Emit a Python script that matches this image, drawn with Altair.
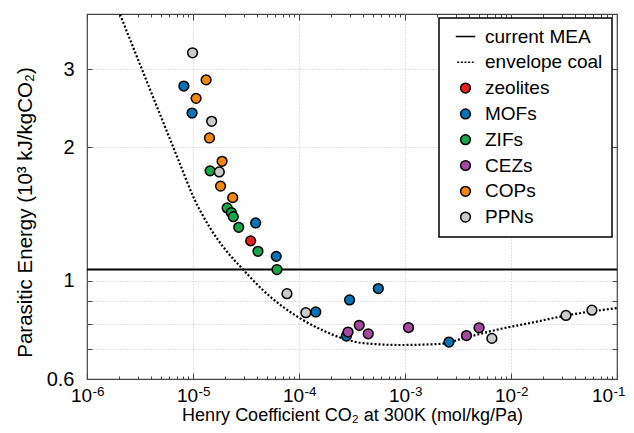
import altair as alt
import pandas as pd

# ---------------- data ----------------
legend_labels = ["current MEA", "envelope coal", "zeolites", "MOFs", "ZIFs", "CEZs", "COPs", "PPNs"]
legend_colors = ["black", "black", "#ec1c24", "#0a72b5", "#17a64a", "#a34a9e", "#f7860f", "#cbcbcb"]

zeolites_x = [3.5e-5]
zeolites_y = [1.23]
mofs_x = [8.2e-6, 9.8e-6, 3.9e-5, 6.1e-5, 1.44e-4, 3.0e-4, 5.6e-4, 2.8e-4, 2.6e-3]
mofs_y = [2.75, 2.39, 1.35, 1.135, 0.85, 0.905, 0.96, 0.75, 0.727]
zifs_x = [1.45e-5, 2.1e-5, 2.3e-5, 2.4e-5, 2.7e-5, 4.1e-5, 6.2e-5]
zifs_y = [1.77, 1.46, 1.425, 1.395, 1.32, 1.165, 1.06]
cezs_x = [2.9e-4, 3.7e-4, 4.5e-4, 1.08e-3, 3.8e-3, 5.0e-3]
cezs_y = [0.766, 0.793, 0.759, 0.784, 0.752, 0.783]
cops_x = [1.33e-5, 1.07e-5, 1.43e-5, 1.88e-5, 1.82e-5, 2.37e-5]
cops_y = [2.84, 2.58, 2.10, 1.86, 1.635, 1.54]
ppns_x = [9.9e-6, 1.5e-5, 1.77e-5, 7.7e-5, 1.16e-4, 6.6e-3, 3.3e-2, 5.8e-2]
ppns_y = [3.27, 2.29, 1.76, 0.935, 0.847, 0.741, 0.835, 0.858]

envelope_x = [2.05e-6, 4.07e-6, 7.53e-6, 1.01e-5, 1.45e-5,
              2.08e-5, 2.98e-5, 4.6e-5, 7.11e-5, 1.1e-4, 1.69e-4, 2.62e-4, 4.05e-4,
              8.98e-4, 2.14e-3, 3.82e-3, 7.87e-3, 1.61e-2, 3.35e-2, 0.1]
envelope_y = [3.99, 2.647, 1.836, 1.544, 1.315,
              1.165, 1.059, 0.951, 0.872, 0.814, 0.772, 0.740, 0.723,
              0.716, 0.720, 0.745, 0.778, 0.805, 0.835, 0.867]

mea_value = 1.06

x_ticks = [1e-6, 1e-5, 1e-4, 1e-3, 1e-2, 1e-1]
x_tick_base = "10"
x_tick_exponents = ["-6", "-5", "-4", "-3", "-2", "-1"]
x_minor = [m * 10.0 ** e for e in range(-6, -1) for m in range(2, 10)]
y_ticks = [0.6, 0.7, 0.8, 0.9, 1, 2, 3]
y_tick_labels = ["0.6", "", "", "", "1", "2", "3"]

x_title = "Henry Coefficient CO₂ at 300K (mol/kg/Pa)"
y_title = "Parasitic Energy (10³ kJ/kgCO₂)"

# ---------------- tables ----------------
groups = [("zeolites", zeolites_x, zeolites_y), ("MOFs", mofs_x, mofs_y),
          ("ZIFs", zifs_x, zifs_y), ("CEZs", cezs_x, cezs_y),
          ("COPs", cops_x, cops_y), ("PPNs", ppns_x, ppns_y)]
rows = []
order = 0
for name, xs, ys in groups:
    for xv, yv in zip(xs, ys):
        rows.append({"x": xv, "y": yv, "cat": name, "o": order})
        order += 1
pts = pd.DataFrame(rows)
env = pd.DataFrame({"x": envelope_x, "y": envelope_y})

FONT = "Liberation Sans"
xscale = alt.Scale(type="log", domain=[1e-6, 0.1], nice=False)
yscale = alt.Scale(type="log", domain=[0.6, 4.0], nice=False)

x_exp_expr = "[" + ",".join("'%s'" % s for s in x_tick_exponents) + "][round(log(datum.value)/LN10)+6]"
y_label_expr = ("[" + ",".join("'%s'" % s for s in y_tick_labels) + "][indexof(["
                + ",".join(str(v) for v in y_ticks) + "], datum.value)]")
last_tick_test = "datum.value > 0.05"

def blank_axis(**kw):
    base = dict(labels=False, title=None, domain=False, grid=False, tickColor="#444", tickWidth=1)
    base.update(kw)
    return alt.Axis(**base)

# grid layer + envelope
envelope = alt.Chart(env).mark_line(
    color="black", strokeDash=[2, 2], strokeWidth=2.2, interpolate="monotone", clip=True
).encode(
    x=alt.X("x:Q", scale=xscale,
            axis=blank_axis(orient="bottom", values=x_ticks[1:-1], ticks=False, grid=True,
                            gridColor="#c4c4c4", gridDash=[1, 2], gridWidth=1)),
    y=alt.Y("y:Q", scale=yscale,
            axis=blank_axis(orient="left", values=y_ticks[1:], ticks=False, grid=True,
                            gridColor="#c4c4c4", gridDash=[1, 2], gridWidth=1)),
)

mea = alt.Chart(pd.DataFrame({"v": [mea_value]})).mark_rule(color="black", strokeWidth=2).encode(
    y=alt.Y("v:Q", scale=yscale, axis=None)
)

legend_shapes = ["M-2,0H2",
                 "M-1.68,0H-1.28M-0.94,0H-0.54M-0.2,0H0.2M0.54,0H0.94M1.28,0H1.68",
                 "circle", "circle", "circle", "circle", "circle", "circle"]

points = alt.Chart(pts).mark_point(
    filled=True, size=95, stroke="black", strokeWidth=1.5, opacity=1
).encode(
    x=alt.X("x:Q", scale=xscale,
            axis=alt.Axis(orient="bottom", values=x_ticks, labelExpr="'%s'" % x_tick_base,
                          tickSize=6, offset=-6, labelPadding=7, labelFontSize=19,
                          labelOffset={"condition": {"test": last_tick_test, "value": -15}, "value": -6},
                          grid=False, domain=False,
                          tickColor="#444", labelFlush=False, labelOverlap=False,
                          title=x_title, titleY=33, titleFontSize=18)),
    y=alt.Y("y:Q", scale=yscale,
            axis=alt.Axis(orient="left", values=y_ticks, labelExpr=y_label_expr,
                          tickSize=5, offset=-5, labelPadding=13, grid=False, domain=False,
                          tickColor="#444", labelOverlap=False,
                          title=y_title, titlePadding=11, titleY=198, titleFontSize=20.5)),
    color=alt.Color("cat:N", scale=alt.Scale(domain=legend_labels, range=legend_colors),
                    legend=alt.Legend(title=None, orient="none", legendX=352, legendY=4)),
    shape=alt.Shape("cat:N", scale=alt.Scale(domain=legend_labels, range=legend_shapes),
                    legend=alt.Legend(title=None, orient="none", legendX=352, legendY=4)),
    order=alt.Order("o:Q"),
)

ghost1 = alt.Chart(pts).mark_point(opacity=0).encode(
    x=alt.X("x:Q", scale=xscale, axis=blank_axis(orient="bottom", values=x_minor, tickSize=3, offset=-3)),
    y=alt.Y("y:Q", scale=yscale, axis=blank_axis(orient="right", values=y_ticks, tickSize=5, offset=-5)),
)
ghost2 = alt.Chart(pts).mark_point(opacity=0).encode(
    x=alt.X("x:Q", scale=xscale, axis=blank_axis(orient="top", values=x_ticks, tickSize=6, offset=-6)),
    y=alt.Y("y:Q", scale=yscale, axis=None),
)
ghost3 = alt.Chart(pts).mark_point(opacity=0).encode(
    x=alt.X("x:Q", scale=xscale, axis=blank_axis(orient="top", values=x_minor, tickSize=3, offset=-3)),
    y=alt.Y("y:Q", scale=yscale, axis=None),
)
# exponent labels (superscripts) of the x axis
ghost4 = alt.Chart(pts).mark_point(opacity=0).encode(
    x=alt.X("x:Q", scale=xscale,
            axis=alt.Axis(orient="bottom", values=x_ticks, labelExpr=x_exp_expr, ticks=False,
                          tickSize=0, labelPadding=5,
                          labelOffset={"condition": {"test": last_tick_test, "value": 2}, "value": 11},
                          labelFontSize=13.5,
                          domain=False, grid=False, title=None, labelFlush=False,
                          labelOverlap=False)),
    y=alt.Y("y:Q", scale=yscale, axis=None),
)

chart = alt.layer(envelope, mea, points, ghost1, ghost2, ghost3, ghost4).resolve_axis(
    x="independent", y="independent"
).properties(
    width=530, height=365,
    autosize=alt.AutoSizeParams(type="none"),
    padding={"left": 79, "top": 6, "right": 9, "bottom": 46},
    background="white",
).configure_view(
    stroke="#444", strokeWidth=1.2
).configure_axis(
    labelFont=FONT, labelFontSize=20, labelColor="black",
    titleFont=FONT, titleFontSize=20, titleFontWeight="normal", titleColor="black",
).configure_legend(
    labelFont=FONT, labelFontSize=19, labelColor="black", labelLimit=300,
    strokeColor="black", strokeWidth=1.5, fillColor="white", padding=9,
    rowPadding=5.8, symbolSize=95, symbolStrokeColor="black", symbolStrokeWidth=1.5,
    symbolOffset=8, labelOffset=10, cornerRadius=0,
)

chart.save("out.html", embed_options={"renderer": "svg", "actions": False})
